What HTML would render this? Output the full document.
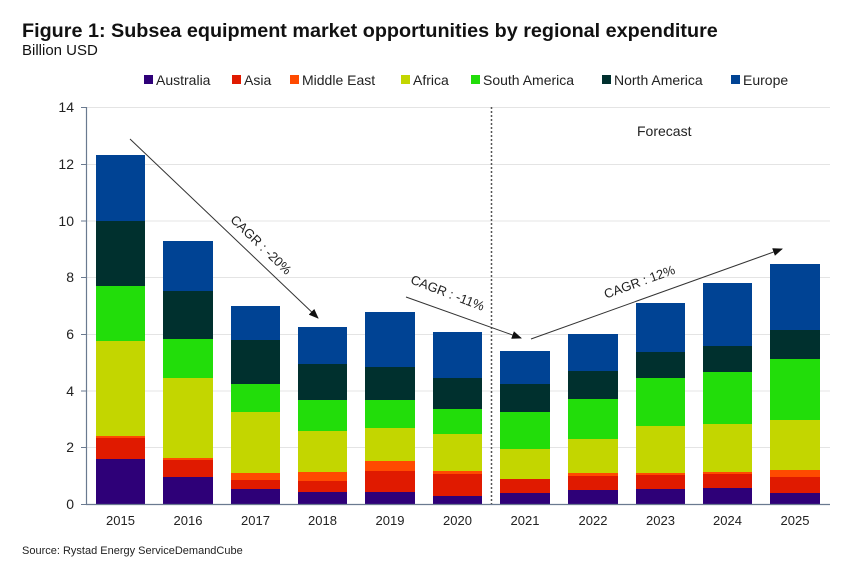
<!DOCTYPE html>
<html><head><meta charset="utf-8"><style>
body{margin:0;background:#fff;}
svg{display:block;font-family:"Liberation Sans",Arial,sans-serif;}
</style></head><body>
<svg width="864" height="584" viewBox="0 0 864 584" xmlns="http://www.w3.org/2000/svg">
<defs><marker id="ah" markerWidth="10" markerHeight="8" refX="9" refY="4" orient="auto" markerUnits="userSpaceOnUse"><path d="M0,0 L10,4 L0,8 z" fill="#111"/></marker></defs>
<text x="22" y="37" font-size="19.8" font-weight="bold" fill="#111">Figure 1: Subsea equipment market opportunities by regional expenditure</text>
<text x="22" y="55" font-size="15" fill="#111">Billion USD</text>
<g font-size="14" fill="#222">
<rect x="144" y="75" width="9" height="9" fill="#2e0078"/><text x="156" y="85">Australia</text>
<rect x="232" y="75" width="9" height="9" fill="#e01a00"/><text x="244" y="85">Asia</text>
<rect x="290" y="75" width="9" height="9" fill="#ff4a00"/><text x="302" y="85">Middle East</text>
<rect x="401" y="75" width="9" height="9" fill="#c3d600"/><text x="413" y="85">Africa</text>
<rect x="471" y="75" width="9" height="9" fill="#22dd0a"/><text x="483" y="85">South America</text>
<rect x="602" y="75" width="9" height="9" fill="#00302e"/><text x="614" y="85">North America</text>
<rect x="731" y="75" width="9" height="9" fill="#004394"/><text x="743" y="85">Europe</text>
</g>
<g stroke="#e4e4e4" stroke-width="1">
<line x1="86" x2="830" y1="107.5" y2="107.5"/><line x1="86" x2="830" y1="164.5" y2="164.5"/><line x1="86" x2="830" y1="221" y2="221"/><line x1="86" x2="830" y1="277.5" y2="277.5"/><line x1="86" x2="830" y1="334.5" y2="334.5"/><line x1="86" x2="830" y1="391" y2="391"/><line x1="86" x2="830" y1="447.5" y2="447.5"/>
</g>
<g font-size="14" fill="#222" text-anchor="end">
<text x="74" y="112">14</text><text x="74" y="169">12</text><text x="74" y="226">10</text><text x="74" y="282">8</text><text x="74" y="339">6</text><text x="74" y="396">4</text><text x="74" y="452">2</text><text x="74" y="509">0</text>
</g>
<!-- bars -->
<g>
<!-- 2015 -->
<rect x="96" y="155" width="49" height="66" fill="#004394"/><rect x="96" y="221" width="49" height="65" fill="#00302e"/><rect x="96" y="286" width="49" height="55" fill="#22dd0a"/><rect x="96" y="341" width="49" height="95" fill="#c3d600"/><rect x="96" y="436" width="49" height="2" fill="#ff4a00"/><rect x="96" y="438" width="49" height="21" fill="#e01a00"/><rect x="96" y="459" width="49" height="45" fill="#2e0078"/>
<!-- 2016 -->
<rect x="163" y="241" width="50" height="50" fill="#004394"/><rect x="163" y="291" width="50" height="48" fill="#00302e"/><rect x="163" y="339" width="50" height="39" fill="#22dd0a"/><rect x="163" y="378" width="50" height="80" fill="#c3d600"/><rect x="163" y="458" width="50" height="2" fill="#ff4a00"/><rect x="163" y="460" width="50" height="17" fill="#e01a00"/><rect x="163" y="477" width="50" height="27" fill="#2e0078"/>
<!-- 2017 -->
<rect x="231" y="306" width="49" height="34" fill="#004394"/><rect x="231" y="340" width="49" height="44" fill="#00302e"/><rect x="231" y="384" width="49" height="28" fill="#22dd0a"/><rect x="231" y="412" width="49" height="61" fill="#c3d600"/><rect x="231" y="473" width="49" height="7" fill="#ff4a00"/><rect x="231" y="480" width="49" height="9" fill="#e01a00"/><rect x="231" y="489" width="49" height="15" fill="#2e0078"/>
<!-- 2018 -->
<rect x="298" y="327" width="49" height="37" fill="#004394"/><rect x="298" y="364" width="49" height="36" fill="#00302e"/><rect x="298" y="400" width="49" height="31" fill="#22dd0a"/><rect x="298" y="431" width="49" height="41" fill="#c3d600"/><rect x="298" y="472" width="49" height="9" fill="#ff4a00"/><rect x="298" y="481" width="49" height="11" fill="#e01a00"/><rect x="298" y="492" width="49" height="12" fill="#2e0078"/>
<!-- 2019 -->
<rect x="365" y="312" width="50" height="55" fill="#004394"/><rect x="365" y="367" width="50" height="33" fill="#00302e"/><rect x="365" y="400" width="50" height="28" fill="#22dd0a"/><rect x="365" y="428" width="50" height="33" fill="#c3d600"/><rect x="365" y="461" width="50" height="10" fill="#ff4a00"/><rect x="365" y="471" width="50" height="21" fill="#e01a00"/><rect x="365" y="492" width="50" height="12" fill="#2e0078"/>
<!-- 2020 -->
<rect x="433" y="332" width="49" height="46" fill="#004394"/><rect x="433" y="378" width="49" height="31" fill="#00302e"/><rect x="433" y="409" width="49" height="25" fill="#22dd0a"/><rect x="433" y="434" width="49" height="37" fill="#c3d600"/><rect x="433" y="471" width="49" height="3" fill="#ff4a00"/><rect x="433" y="474" width="49" height="22" fill="#e01a00"/><rect x="433" y="496" width="49" height="8" fill="#2e0078"/>
<!-- 2021 -->
<rect x="500" y="351" width="50" height="33" fill="#004394"/><rect x="500" y="384" width="50" height="28" fill="#00302e"/><rect x="500" y="412" width="50" height="37" fill="#22dd0a"/><rect x="500" y="449" width="50" height="30" fill="#c3d600"/><rect x="500" y="479" width="50" height="14" fill="#e01a00"/><rect x="500" y="493" width="50" height="11" fill="#2e0078"/>
<!-- 2022 -->
<rect x="568" y="334" width="50" height="37" fill="#004394"/><rect x="568" y="371" width="50" height="28" fill="#00302e"/><rect x="568" y="399" width="50" height="40" fill="#22dd0a"/><rect x="568" y="439" width="50" height="34" fill="#c3d600"/><rect x="568" y="473" width="50" height="3" fill="#ff4a00"/><rect x="568" y="476" width="50" height="14" fill="#e01a00"/><rect x="568" y="490" width="50" height="14" fill="#2e0078"/>
<!-- 2023 -->
<rect x="636" y="303" width="49" height="49" fill="#004394"/><rect x="636" y="352" width="49" height="26" fill="#00302e"/><rect x="636" y="378" width="49" height="48" fill="#22dd0a"/><rect x="636" y="426" width="49" height="47" fill="#c3d600"/><rect x="636" y="473" width="49" height="2" fill="#ff4a00"/><rect x="636" y="475" width="49" height="14" fill="#e01a00"/><rect x="636" y="489" width="49" height="15" fill="#2e0078"/>
<!-- 2024 -->
<rect x="703" y="283" width="49" height="63" fill="#004394"/><rect x="703" y="346" width="49" height="26" fill="#00302e"/><rect x="703" y="372" width="49" height="52" fill="#22dd0a"/><rect x="703" y="424" width="49" height="48" fill="#c3d600"/><rect x="703" y="472" width="49" height="2" fill="#ff4a00"/><rect x="703" y="474" width="49" height="14" fill="#e01a00"/><rect x="703" y="488" width="49" height="16" fill="#2e0078"/>
<!-- 2025 -->
<rect x="770" y="264" width="50" height="66" fill="#004394"/><rect x="770" y="330" width="50" height="29" fill="#00302e"/><rect x="770" y="359" width="50" height="61" fill="#22dd0a"/><rect x="770" y="420" width="50" height="50" fill="#c3d600"/><rect x="770" y="470" width="50" height="7" fill="#ff4a00"/><rect x="770" y="477" width="50" height="16" fill="#e01a00"/><rect x="770" y="493" width="50" height="11" fill="#2e0078"/>
</g>
<line x1="86.5" y1="107" x2="86.5" y2="505" stroke="#6a7a90" stroke-width="1.2"/>
<line x1="86" y1="504.5" x2="830" y2="504.5" stroke="#6a7a90" stroke-width="1.2"/>
<g stroke="#6a7a90"><line x1="81" x2="86" y1="107.5" y2="107.5"/><line x1="81" x2="86" y1="164.5" y2="164.5"/><line x1="81" x2="86" y1="221" y2="221"/><line x1="81" x2="86" y1="277.5" y2="277.5"/><line x1="81" x2="86" y1="334.5" y2="334.5"/><line x1="81" x2="86" y1="391" y2="391"/><line x1="81" x2="86" y1="447.5" y2="447.5"/><line x1="81" x2="86" y1="504.5" y2="504.5"/></g>
<line x1="491.5" y1="107" x2="491.5" y2="504" stroke="#555" stroke-width="1.5" stroke-dasharray="2,2"/>
<text x="637" y="136" font-size="14" fill="#222">Forecast</text>
<g stroke="#333" stroke-width="1" fill="none" marker-end="url(#ah)">
<line x1="130" y1="139" x2="318" y2="318"/>
<line x1="406" y1="297" x2="521" y2="338"/>
<line x1="531" y1="339" x2="782" y2="249"/>
</g>
<g font-size="13" fill="#222" text-anchor="middle">
<text transform="translate(258,248) rotate(44)">CAGR : -20%</text>
<text transform="translate(446,297) rotate(21)">CAGR : -11%</text>
<text transform="translate(641,286) rotate(-20)">CAGR : 12%</text>
</g>
<g font-size="13" fill="#222" text-anchor="middle">
<text x="120.5" y="525">2015</text><text x="188" y="525">2016</text><text x="255.5" y="525">2017</text><text x="322.5" y="525">2018</text><text x="390" y="525">2019</text><text x="457.5" y="525">2020</text><text x="525" y="525">2021</text><text x="593" y="525">2022</text><text x="660.5" y="525">2023</text><text x="727.5" y="525">2024</text><text x="795" y="525">2025</text>
</g>
<text x="22" y="554" font-size="11" fill="#222">Source: Rystad Energy ServiceDemandCube</text>
</svg>
</body></html>
